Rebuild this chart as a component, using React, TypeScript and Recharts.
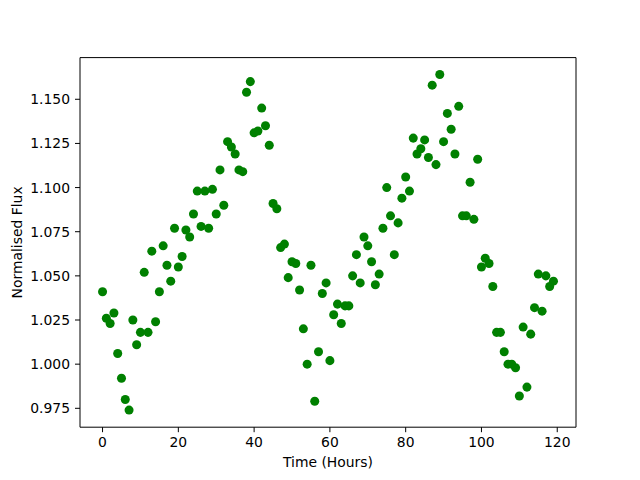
import React from "react";
import {
  ScatterChart,
  Scatter,
  XAxis,
  YAxis,
  ZAxis,
  ReferenceLine,
} from "recharts";

// hours since start of observation
const hours = Array.from({ length: 120 }, (_, i) => i);

const flux = [
  1.041, 1.026, 1.023, 1.029, 1.006, 0.992, 0.98, 0.974, 1.025, 1.011,
  1.018, 1.052, 1.018, 1.064, 1.024, 1.041, 1.067, 1.056, 1.047, 1.077,
  1.055, 1.061, 1.076, 1.072, 1.085, 1.098, 1.078, 1.098, 1.077, 1.099,
  1.085, 1.11, 1.09, 1.126, 1.123, 1.119, 1.11, 1.109, 1.154, 1.16,
  1.131, 1.132, 1.145, 1.135, 1.124, 1.091, 1.088, 1.066, 1.068, 1.049,
  1.058, 1.057, 1.042, 1.02, 1.0, 1.056, 0.979, 1.007, 1.04, 1.046,
  1.002, 1.028, 1.034, 1.023, 1.033, 1.033, 1.05, 1.062, 1.046, 1.072,
  1.067, 1.058, 1.045, 1.051, 1.077, 1.1, 1.084, 1.062, 1.08, 1.094,
  1.106, 1.098, 1.128, 1.119, 1.122, 1.127, 1.117, 1.158, 1.113, 1.164,
  1.126, 1.142, 1.133, 1.119, 1.146, 1.084, 1.084, 1.103, 1.082, 1.116,
  1.055, 1.06, 1.057, 1.044, 1.018, 1.018, 1.007, 1.0, 1.0, 0.998,
  0.982, 1.021, 0.987, 1.017, 1.032, 1.051, 1.03, 1.05, 1.044, 1.047,
];

const xTicks = [0, 20, 40, 60, 80, 100, 120];
const yTicks = [0.975, 1.0, 1.025, 1.05, 1.075, 1.1, 1.125, 1.15];

const X_DOMAIN = [-5.95, 124.95];
const Y_DOMAIN = [0.9643, 1.1736];

const data = hours.map((h, i) => ({ x: h, y: flux[i] }));

const font = { fontFamily: "DejaVu Sans", fontSize: 13.9, fill: "#000" };

export default function App() {
  return (
    <div style={{ position: "absolute", left: 0, top: 0, background: "#fff" }}>
      <ScatterChart
        width={640}
        height={480}
        margin={{ top: 57.6, right: 64, bottom: 0, left: 0 }}
      >
        <XAxis
          type="number"
          dataKey="x"
          domain={X_DOMAIN}
          ticks={xTicks}
          allowDataOverflow
          height={52.8}
          tickSize={5}
          tickMargin={5}
          stroke="#000"
          tick={font}
          label={{
            value: "Time (Hours)",
            position: "insideBottom",
            offset: 13,
            style: font,
          }}
        />
        <YAxis
          type="number"
          dataKey="y"
          domain={Y_DOMAIN}
          ticks={yTicks}
          allowDataOverflow
          width={80}
          tickSize={5}
          tickMargin={5}
          stroke="#000"
          tick={font}
          tickFormatter={(v) => v.toFixed(3)}
          label={{
            value: "Normalised Flux",
            angle: -90,
            position: "insideLeft",
            offset: 17.5,
            style: { ...font, textAnchor: "middle" },
          }}
        />
        <ZAxis range={[68, 68]} />
        <ReferenceLine y={Y_DOMAIN[1]} stroke="#000" />
        <ReferenceLine x={X_DOMAIN[1]} stroke="#000" />
        <Scatter data={data} fill="#008000" isAnimationActive={false} />
      </ScatterChart>
    </div>
  );
}
